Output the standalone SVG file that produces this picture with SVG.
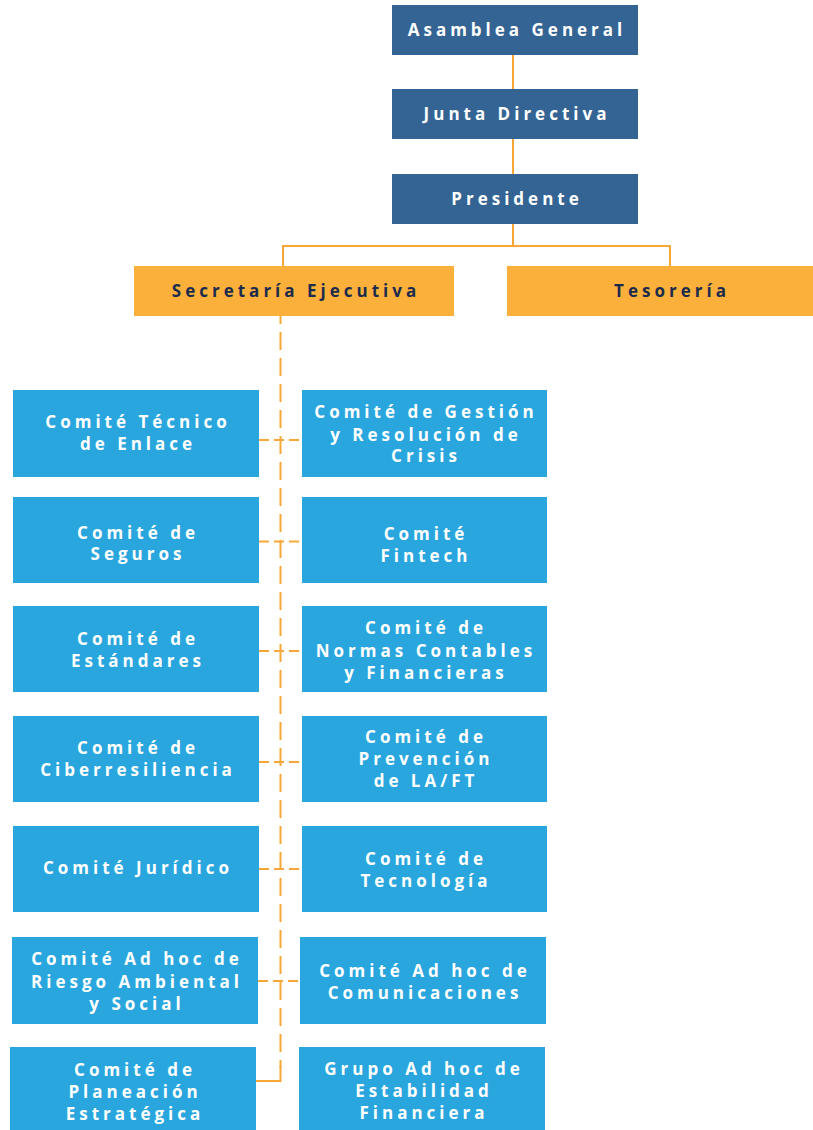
<svg xmlns="http://www.w3.org/2000/svg" width="813" height="1130" viewBox="0 0 813 1130">
<style>
.dk{fill:#346493}
.or{fill:#FBB03B}
.lb{fill:#29A6DE}
text{font-family:"Open Sans",Lato,"Liberation Sans",sans-serif;font-weight:700;font-size:17px;letter-spacing:4px;text-anchor:middle}
.w{fill:#FFFFFF}
.n{fill:#1B2B4B}
.c{fill:none;stroke:#F7A738;stroke-width:2}
.d{fill:none;stroke:#F7A738;stroke-width:2;stroke-dasharray:18 8}
.h{fill:none;stroke:#F7A738;stroke-width:2;stroke-dasharray:10 5}
</style>
<rect width="813" height="1130" fill="#FFFFFF"/>
<g id="connectors">
<path class="c" d="M513,55V89M513,139V174M513,224V246M283,246H670M283,245V266M670,245V266"/>
<path class="d" d="M280.5,316V1068" stroke-dashoffset="10"/>
<path class="c" d="M280.5,1066V1081H256"/>
<path class="h" d="M259,440H302M259,541.5H302M259,651H302M259,762H302M259,869H302M258,981H300"/>
</g>
<g id="asamblea"><rect class="dk" x="392" y="5" width="246" height="50"/><text class="w" x="517" y="36">Asamblea General</text></g>
<g id="junta"><rect class="dk" x="392" y="89" width="246" height="50"/><text class="w" x="517" y="120">Junta Directiva</text></g>
<g id="presidente"><rect class="dk" x="392" y="174" width="246" height="50"/><text class="w" x="517" y="205">Presidente</text></g>
<g id="secretaria"><rect class="or" x="134" y="266" width="320" height="50"/><text class="n" x="296" y="297">Secretaría Ejecutiva</text></g>
<g id="tesoreria"><rect class="or" x="507" y="266" width="326" height="50"/><text class="n" x="672" y="297">Tesorería</text></g>

<g id="tecnico"><rect class="lb" x="13" y="390" width="246" height="87"/><text class="w" x="138" y="427.5">Comité Técnico</text><text class="w" x="138" y="449.5">de Enlace</text></g>
<g id="gestion"><rect class="lb" x="302" y="390" width="245" height="87"/><text class="w" x="426" y="418">Comité de Gestión</text><text class="w" x="426" y="440.5">y Resolución de</text><text class="w" x="426" y="462">Crisis</text></g>

<g id="seguros"><rect class="lb" x="13" y="497" width="246" height="86"/><text class="w" x="138" y="538.5">Comité de</text><text class="w" x="138" y="560">Seguros</text></g>
<g id="fintech"><rect class="lb" x="302" y="497" width="245" height="86"/><text class="w" x="426" y="539.5">Comité</text><text class="w" x="426" y="561.5">Fintech</text></g>

<g id="estandares"><rect class="lb" x="13" y="606" width="246" height="86"/><text class="w" x="138" y="645">Comité de</text><text class="w" x="138" y="667">Estándares</text></g>
<g id="normas"><rect class="lb" x="302" y="606" width="245" height="86"/><text class="w" x="426" y="634">Comité de</text><text class="w" x="426" y="656.5">Normas Contables</text><text class="w" x="426" y="679">y Financieras</text></g>

<g id="ciber"><rect class="lb" x="13" y="716" width="246" height="86"/><text class="w" x="138" y="753.5">Comité de</text><text class="w" x="138" y="775.5">Ciberresiliencia</text></g>
<g id="prevencion"><rect class="lb" x="302" y="716" width="245" height="86"/><text class="w" x="426" y="743">Comité de</text><text class="w" x="426" y="765">Prevención</text><text class="w" x="426" y="787">de LA/FT</text></g>

<g id="juridico"><rect class="lb" x="13" y="826" width="246" height="86"/><text class="w" x="138" y="874">Comité Jurídico</text></g>
<g id="tecnologia"><rect class="lb" x="302" y="826" width="245" height="86"/><text class="w" x="426" y="865">Comité de</text><text class="w" x="426" y="887">Tecnología</text></g>

<g id="riesgo"><rect class="lb" x="12" y="937" width="246" height="87"/><text class="w" x="137" y="965">Comité Ad hoc de</text><text class="w" x="137" y="987.5">Riesgo Ambiental</text><text class="w" x="137" y="1009.5">y Social</text></g>
<g id="comunicaciones"><rect class="lb" x="300" y="937" width="246" height="87"/><text class="w" x="425" y="976.5">Comité Ad hoc de</text><text class="w" x="425" y="999">Comunicaciones</text></g>

<g id="planeacion"><rect class="lb" x="10" y="1047" width="246" height="90"/><text class="w" x="135" y="1076">Comité de</text><text class="w" x="135" y="1098">Planeación</text><text class="w" x="135" y="1120">Estratégica</text></g>
<g id="estabilidad"><rect class="lb" x="299" y="1047" width="246" height="90"/><text class="w" x="424" y="1075">Grupo Ad hoc de</text><text class="w" x="424" y="1096.5">Estabilidad</text><text class="w" x="424" y="1118.5">Financiera</text></g>
</svg>
